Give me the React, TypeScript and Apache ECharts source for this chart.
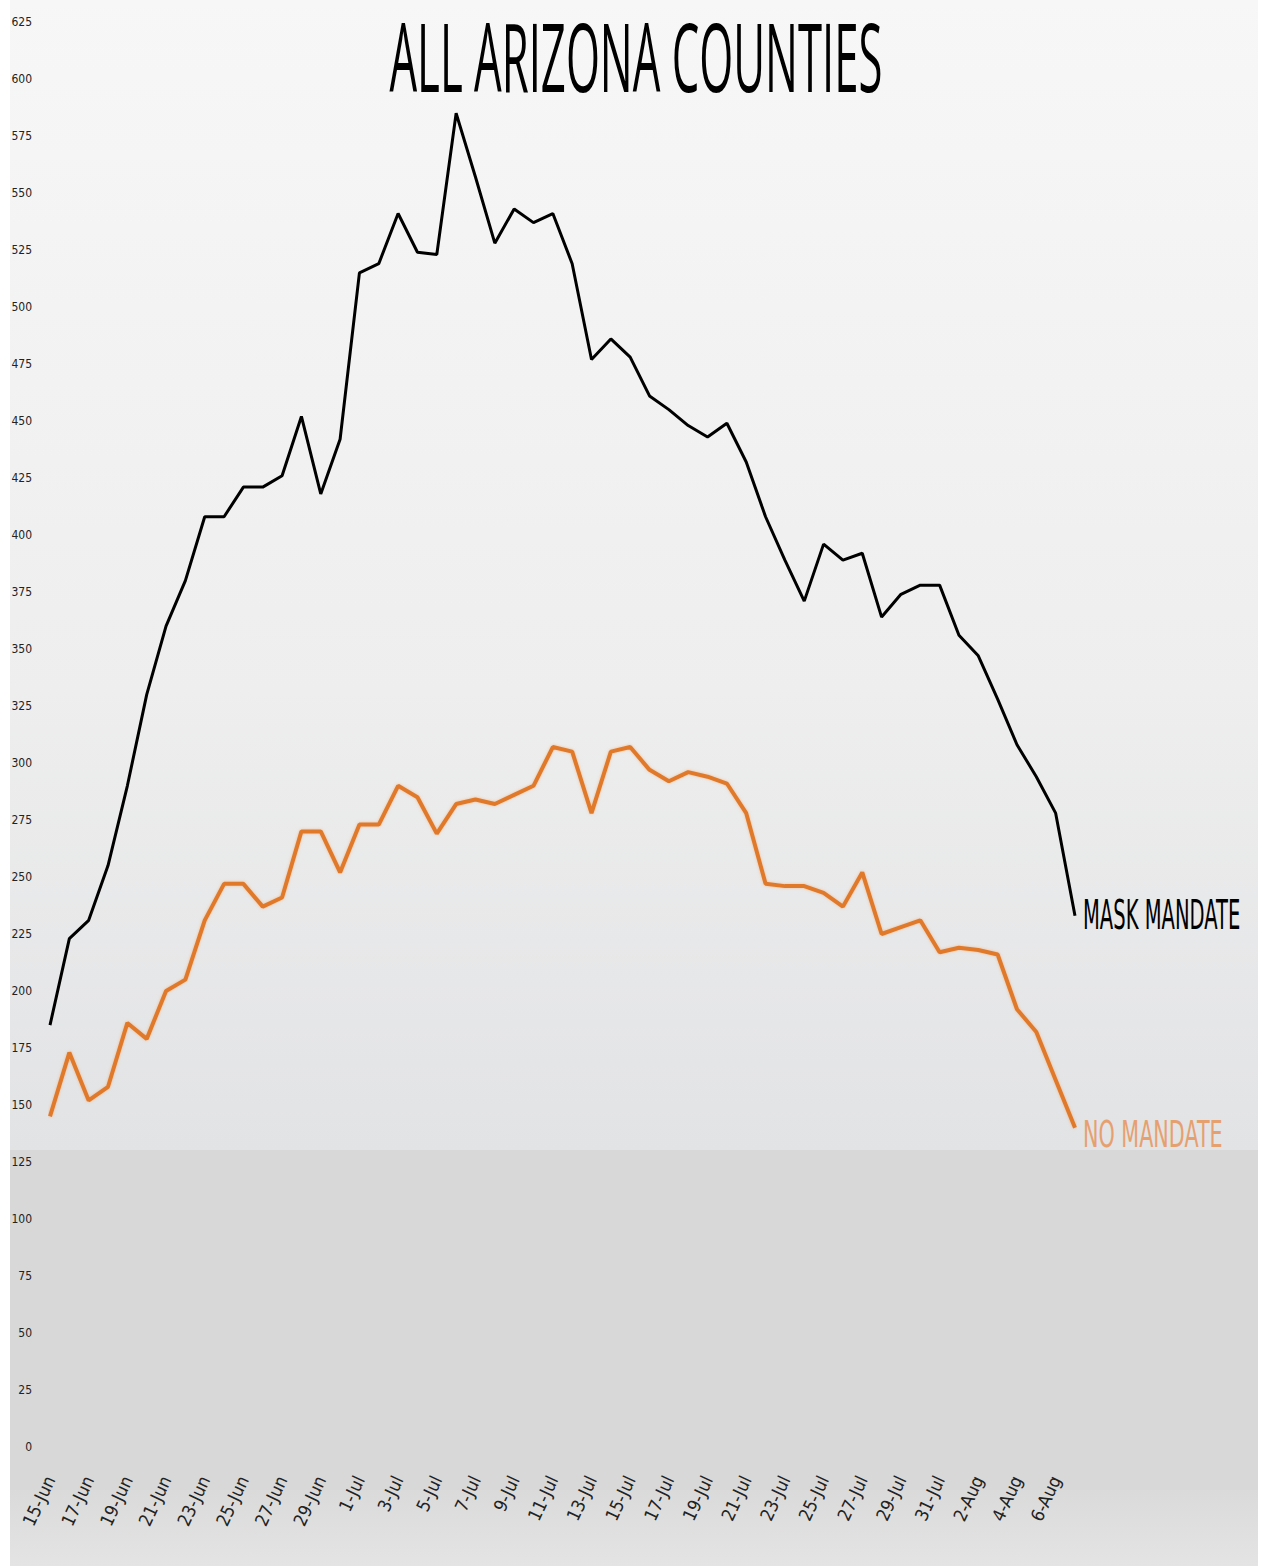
import React, { useEffect, useRef } from "react";
import * as echarts from "echarts";

const dates = [
  "15-Jun", "16-Jun", "17-Jun", "18-Jun", "19-Jun", "20-Jun", "21-Jun", "22-Jun", "23-Jun", "24-Jun",
  "25-Jun", "26-Jun", "27-Jun", "28-Jun", "29-Jun", "30-Jun", "1-Jul", "2-Jul", "3-Jul", "4-Jul",
  "5-Jul", "6-Jul", "7-Jul", "8-Jul", "9-Jul", "10-Jul", "11-Jul", "12-Jul", "13-Jul", "14-Jul",
  "15-Jul", "16-Jul", "17-Jul", "18-Jul", "19-Jul", "20-Jul", "21-Jul", "22-Jul", "23-Jul", "24-Jul",
  "25-Jul", "26-Jul", "27-Jul", "28-Jul", "29-Jul", "30-Jul", "31-Jul", "1-Aug", "2-Aug", "3-Aug",
  "4-Aug", "5-Aug", "6-Aug", "7-Aug",
];

const maskMandate = [
  185, 223, 231, 255, 290, 330, 360, 380, 408, 408,
  421, 421, 426, 452, 418, 442, 515, 519, 541, 524,
  523, 585, 557, 528, 543, 537, 541, 519, 477, 486,
  478, 461, 455, 448, 443, 449, 432, 408, 389, 371,
  396, 389, 392, 364, 374, 378, 378, 356, 347, 328,
  308, 294, 278, 233,
];

const noMandate = [
  145, 173, 152, 158, 186, 179, 200, 205, 231, 247,
  247, 237, 241, 270, 270, 252, 273, 273, 290, 285,
  269, 282, 284, 282, 286, 290, 307, 305, 278, 305,
  307, 297, 292, 296, 294, 291, 278, 247, 246, 246,
  243, 237, 252, 225, 228, 231, 217, 219, 218, 216,
  192, 182, 161, 140,
];

const titleText = "ALL ARIZONA COUNTIES";
const maskLabel = "MASK MANDATE";
const noMaskLabel = "NO MANDATE";

const NARROW = "'DejaVu Sans Condensed', 'DejaVu Sans', sans-serif";

export default function App() {
  const ref = useRef<HTMLDivElement>(null);

  useEffect(() => {
    if (!ref.current) return;
    const chart = echarts.init(ref.current, null, { renderer: "svg" });
    chart.setOption({
      animation: false,
      backgroundColor: "#ffffff",
      graphic: [
        {
          type: "rect",
          z: -10,
          silent: true,
          shape: { x: 10, y: 0, width: 1248, height: 1150 },
          style: {
            fill: new echarts.graphic.LinearGradient(0, 0, 0, 1, [
              { offset: 0, color: "#f7f7f7" },
              { offset: 0.6, color: "#eeeeee" },
              { offset: 1, color: "#e2e3e5" },
            ]),
          },
        },
        {
          type: "rect",
          z: -10,
          silent: true,
          shape: { x: 10, y: 1150, width: 1248, height: 340 },
          style: { fill: "#d8d8d8" },
        },
        {
          type: "rect",
          z: -10,
          silent: true,
          shape: { x: 10, y: 1490, width: 1248, height: 76 },
          style: {
            fill: new echarts.graphic.LinearGradient(0, 0, 0, 1, [
              { offset: 0, color: "#dadada" },
              { offset: 1, color: "#e4e4e4" },
            ]),
          },
        },
        {
          type: "text",
          x: 636,
          y: 8,
          scaleX: 0.46,
          style: {
            text: titleText,
            font: "normal 95px 'Open Sans', sans-serif",
            fill: "#000000",
            align: "center",
          },
        },
        {
          type: "text",
          x: 1083,
          y: 894,
          scaleX: 0.85,
          scaleY: 1.8,
          style: {
            text: maskLabel,
            font: "normal 23px 'DejaVu Sans', sans-serif",
            fill: "#000000",
          },
        },
        {
          type: "text",
          x: 1083,
          y: 1116,
          scaleX: 0.9,
          scaleY: 1.6,
          style: {
            text: noMaskLabel,
            font: "normal 23px 'DejaVu Sans', sans-serif",
            fill: "#e6a070",
          },
        },
      ],
      grid: { left: 50, right: 187, top: 22, bottom: 119, containLabel: false },
      xAxis: {
        type: "category",
        data: dates,
        boundaryGap: false,
        axisLine: { show: false },
        axisTick: { show: false },
        axisLabel: {
          interval: 1,
          rotate: 65,
          margin: 30,
          fontSize: 18,
          color: "#222222",
          fontFamily: NARROW,
        },
        splitLine: { show: false },
      },
      yAxis: {
        type: "value",
        min: 0,
        max: 625,
        interval: 25,
        axisLine: { show: false },
        axisTick: { show: false },
        splitLine: { show: false },
        axisLabel: {
          margin: 18,
          fontSize: 12,
          color: "#222222",
          fontFamily: NARROW,
        },
      },
      series: [
        {
          name: maskLabel,
          type: "line",
          data: maskMandate,
          symbol: "none",
          lineStyle: { color: "#000000", width: 3 },
          z: 3,
        },
        {
          name: noMaskLabel,
          type: "line",
          data: noMandate,
          symbol: "none",
          lineStyle: {
            color: "#e07a2c",
            width: 4,
            shadowColor: "rgba(240,160,90,0.6)",
            shadowBlur: 3,
          },
          z: 2,
        },
      ],
    });
    return () => chart.dispose();
  }, []);

  return (
    <div
      ref={ref}
      style={{ position: "absolute", left: 0, top: 0, width: 1262, height: 1566 }}
    />
  );
}
